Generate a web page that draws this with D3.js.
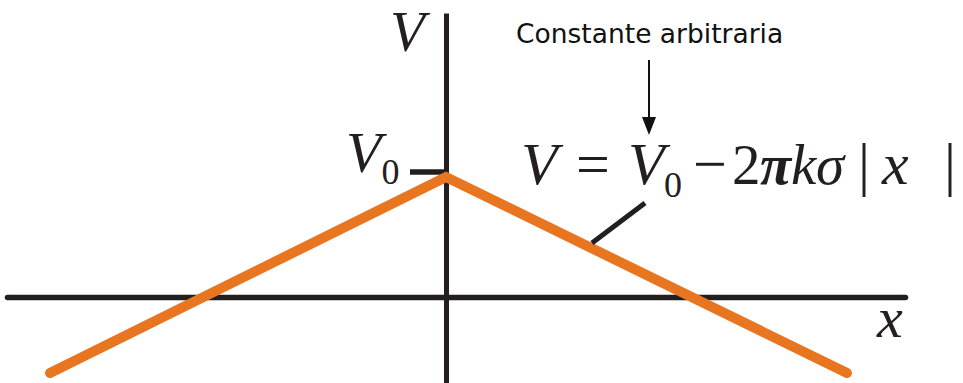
<!DOCTYPE html>
<html>
<head>
<meta charset="utf-8">
<script src="https://cdn.jsdelivr.net/npm/d3@7"></script>
<style>
  html, body { margin: 0; padding: 0; background: #fff; }
  svg { display: block; }
  .serif { font-family: "Liberation Serif", "Times New Roman", serif; }
</style>
</head>
<body>
<svg id="chart" width="963" height="383"></svg>
<script>
// Potential of an infinite charged plane: V = V0 - 2πkσ|x|
const xPositions = [-3.96, 0, 4.01];     // x (arbitrary units)
const potentials = [-0.76, 1.2, -0.76];  // V at each x
const V0 = 1.2;                          // value of the arbitrary constant
const axisTicksY = [V0];

const svg = d3.select("#chart");

const x = d3.scaleLinear().domain([-4.39, 4.59]).range([7, 905]);
const y = d3.scaleLinear().domain([-0.86, 2.84]).range([383, 13]);

const ink = "#231f20";
const orange = "#e8751f";
const lineW = 10;

// horizontal x axis
const gx = svg.append("g")
  .attr("transform", `translate(0,${y(0)})`)
  .call(d3.axisBottom(x).tickValues([]).tickSizeOuter(0));
gx.select(".domain").attr("stroke", ink).attr("stroke-width", 5.5).attr("stroke-linecap", "round");

// vertical V axis with a single tick at V0
const gy = svg.append("g")
  .attr("transform", `translate(${x(0)},0)`)
  .call(d3.axisLeft(y).tickValues(axisTicksY).tickSize(36).tickSizeOuter(0).tickFormat(""));
gy.select(".domain").attr("stroke", ink).attr("stroke-width", 5);
gy.selectAll(".tick").attr("transform", d => `translate(0,${y(d) - lineW / 2})`);
gy.selectAll(".tick line").attr("stroke", ink).attr("stroke-width", 5.5);

// potential curve
const pts = xPositions.map((v, i) => [v, potentials[i]]);
svg.append("path")
  .datum(pts)
  .attr("fill", "none")
  .attr("stroke", orange)
  .attr("stroke-width", lineW)
  .attr("stroke-linecap", "round")
  .attr("stroke-linejoin", "miter")
  .attr("d", d3.line().x(d => x(d[0])).y(d => y(d[1])));

// axis labels
svg.append("text").attr("class", "serif")
  .attr("x", 390).attr("y", 51)
  .attr("font-size", 57).attr("font-style", "italic").attr("fill", ink)
  .text("V");

svg.append("text").attr("class", "serif")
  .attr("x", 877).attr("y", 337)
  .attr("font-size", 58).attr("font-style", "italic").attr("fill", ink)
  .text("x");

const v0Label = svg.append("text").attr("class", "serif")
  .attr("x", 346).attr("y", 172).attr("fill", ink).attr("font-size", 58);
v0Label.append("tspan").attr("font-style", "italic").text("V");
v0Label.append("tspan").attr("font-size", 36).attr("dy", 12).text("0");

// equation, glyph by glyph inside one text element
const eqBase = 184;
const eqParts = [
  { t: "V", x: 521, it: true },
  { t: "=", x: 576 },
  { t: "V", x: 628, it: true },
  { t: "0", x: 664, size: 36, dy: 13 },
  { t: "\u2212", x: 693 },
  { t: "2", x: 732, size: 57 },
  { t: "\u03c0", x: 760, size: 57, it: true, bold: true },
  { t: "k", x: 791, size: 57, it: true },
  { t: "\u03c3", x: 816, size: 57, it: true },
  { t: "|", x: 858 },
  { t: "x", x: 882, it: true },
  { t: "|", x: 944 }
];
svg.append("text").attr("class", "serif").attr("fill", ink)
  .attr("y", eqBase).attr("font-size", 60)
  .selectAll("tspan")
  .data(eqParts)
  .join("tspan")
  .attr("x", d => d.x)
  .attr("y", d => eqBase + (d.dy || 0))
  .attr("font-size", d => d.size || 60)
  .attr("font-style", d => d.it ? "italic" : "normal")
  .attr("font-weight", d => d.bold ? "bold" : "normal")
  .text(d => d.t);

// leader from equation to the curve
svg.append("line")
  .attr("x1", 592).attr("y1", 243).attr("x2", 645).attr("y2", 203)
  .attr("stroke", ink).attr("stroke-width", 5);

// annotation for the constant
svg.append("text")
  .attr("x", 516).attr("y", 43)
  .attr("font-family", "DejaVu Sans, Verdana, sans-serif")
  .attr("font-size", 26.5).attr("fill", "#111")
  .text("Constante arbitraria");

svg.append("line")
  .attr("x1", 649).attr("y1", 60).attr("x2", 649).attr("y2", 120)
  .attr("stroke", "#111").attr("stroke-width", 2);
svg.append("path")
  .attr("d", "M642,117 L656,117 L649,135 Z")
  .attr("fill", "#111");
</script>
</body>
</html>
